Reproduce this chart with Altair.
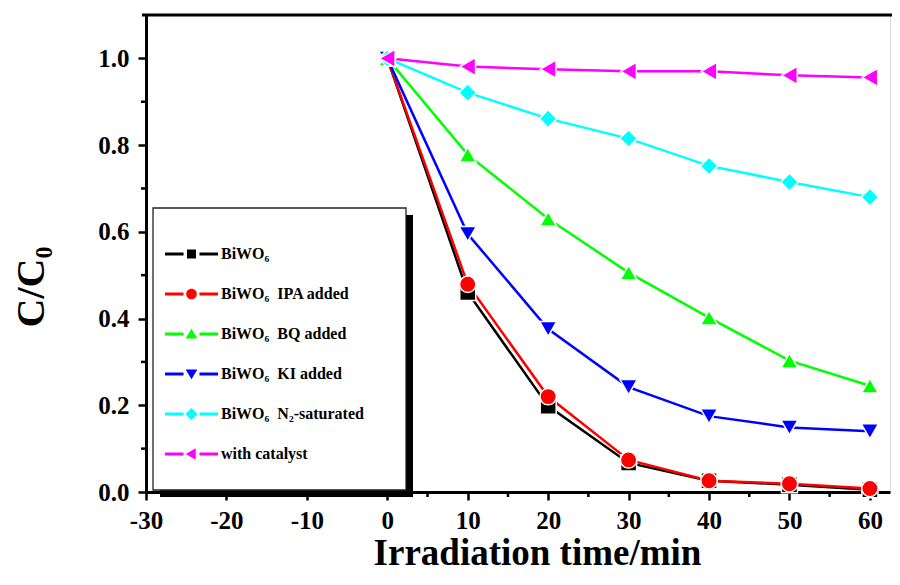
import altair as alt
import pandas as pd

# ---- data ----
times = [0, 10, 20, 30, 40, 50, 60]
series_names = [
    "BiWO\u2086",
    "BiWO\u2086\u00a0\u00a0IPA added",
    "BiWO\u2086\u00a0\u00a0BQ added",
    "BiWO\u2086\u00a0\u00a0KI added",
    "BiWO\u2086\u00a0\u00a0N\u2082-saturated",
    "with catalyst",
]
bi = [1.0, 0.46, 0.198, 0.067, 0.026, 0.017, 0.005]
ipa = [1.0, 0.479, 0.22, 0.074, 0.026, 0.019, 0.008]
bq = [1.0, 0.778, 0.63, 0.506, 0.402, 0.303, 0.245]
ki = [1.0, 0.595, 0.376, 0.242, 0.175, 0.149, 0.14]
n2 = [1.0, 0.921, 0.861, 0.815, 0.752, 0.715, 0.68]
cat = [1.0, 0.981, 0.975, 0.97, 0.97, 0.961, 0.956]
series_values = [bi, ipa, bq, ki, n2, cat]

colors = ["#000000", "#FF0000", "#00FF00", "#0000FF", "#00FFFF", "#FF00FF"]
shapes = ["square", "circle", "triangle-up", "triangle-down", "diamond", "triangle-left"]
marker_sizes = [256, 324, 420, 460, 480, 480]

x_major = [-30, -20, -10, 0, 10, 20, 30, 40, 50, 60]
x_minor = [-25, -15, -5, 5, 15, 25, 35, 45, 55]
y_major = [0.0, 0.2, 0.4, 0.6, 0.8, 1.0]
y_minor = [0.1, 0.3, 0.5, 0.7, 0.9]
y_title = "C/C\u2080"

# legend symbols: line - marker - line (custom SVG paths in [-1,1] box)
seg = "M-1,-0.055H-0.3V0.055H-1Z M0.3,-0.055H1V0.055H0.3Z "
legend_paths = [
    seg + "M-0.17,-0.17H0.17V0.17H-0.17Z",
    seg + "M-0.2,0A0.2,0.2,0,1,0,0.2,0A0.2,0.2,0,1,0,-0.2,0Z",
    seg + "M0,-0.2L0.22,0.17L-0.22,0.17Z",
    seg + "M0,0.2L0.22,-0.17L-0.22,-0.17Z",
    seg + "M0,-0.23L0.23,0L0,0.23L-0.23,0Z",
    seg + "M-0.22,0L0.16,-0.22L0.16,0.22Z",
]

rows = []
for name, vals in zip(series_names, series_values):
    for t, v in zip(times, vals):
        rows.append({"series": name, "time": t, "value": v})
df = pd.DataFrame(rows)

W, H = 744, 477
FONT = "Liberation Serif"

xscale = alt.Scale(domain=[-30, 62.5], nice=False, zero=False)
yscale = alt.Scale(domain=[0, 1.1], nice=False, zero=False)
cscale = alt.Scale(domain=series_names, range=colors)

x_axis = alt.Axis(
    orient="bottom", values=x_major, labelExpr="toString(datum.value)",
    tickSize=8, tickWidth=2.5, tickColor="black",
    domainColor="black", domainWidth=3, labelFont=FONT, labelFontSize=25,
    labelFontWeight="bold", labelColor="black", labelPadding=8, grid=False,
    title="Irradiation time/min", titleFont=FONT, titleFontSize=37,
    titleFontWeight="bold", titleColor="black", titleBaseline="alphabetic",
    titleX=391, titleY=72, labelFlush=False,
)
y_axis = alt.Axis(
    orient="left", values=y_major, format=".1f", tickSize=8, tickWidth=2.5, tickColor="black",
    domainColor="black", domainWidth=3, labelFont=FONT, labelFontSize=25,
    labelFontWeight="bold", labelColor="black", labelPadding=9, grid=False,
    title=None, labelFlush=False,
)

X = alt.X("time:Q", scale=xscale, axis=x_axis)
Y = alt.Y("value:Q", scale=yscale, axis=y_axis)

lines = alt.Chart(df).mark_line(strokeWidth=2.5).encode(
    x=X, y=Y,
    color=alt.Color("series:N", scale=cscale, legend=None),
    detail="series:N",
)

points = alt.Chart(df).mark_point(filled=True, opacity=1, stroke="white", strokeWidth=1.5).encode(
    x=X, y=Y,
    color=alt.Color("series:N", scale=cscale, legend=None),
    shape=alt.Shape("series:N", scale=alt.Scale(domain=series_names, range=shapes), legend=None),
    size=alt.Size("series:N", scale=alt.Scale(domain=series_names, range=marker_sizes), legend=None),
    order=alt.Order("idx:Q"),
).transform_calculate(idx="indexof(" + str(series_names) + ", datum.series)")

# minor ticks (same scales and axes as the data)
x_minor_ticks = alt.Chart(pd.DataFrame({"time": x_minor})).mark_rule(strokeWidth=2.5, color="black").encode(
    x=X, y=alt.value(H), y2=alt.value(H + 5)
)
y_minor_ticks = alt.Chart(pd.DataFrame({"value": y_minor})).mark_rule(strokeWidth=2.5, color="black").encode(
    y=Y, x=alt.value(-5), x2=alt.value(0)
)

# y axis title as rotated text
y_title_layer = alt.Chart(pd.DataFrame({"label": [y_title]})).mark_text(
    angle=270, align="center", baseline="middle", font=FONT, fontSize=40,
    fontWeight="bold", color="black",
).encode(text="label:N", x=alt.value(-114), y=alt.value(272))

legend_kw = dict(
    orient="none", legendX=19, legendY=219, padding=0, clipHeight=40, rowPadding=0,
    symbolSize=2809, symbolStrokeWidth=0, labelOffset=3, labelFont=FONT,
    labelFontSize=16, labelFontWeight="bold", labelColor="black", labelLimit=0,
    title=None, symbolOpacity=1,
)
legend_df = pd.DataFrame({"series": series_names})
legend_layer = alt.Chart(legend_df).mark_point(filled=True, size=2809).encode(
    color=alt.Color("series:N", scale=alt.Scale(domain=series_names, range=colors),
                    legend=alt.Legend(**legend_kw)),
    shape=alt.Shape("series:N", scale=alt.Scale(domain=series_names, range=legend_paths),
                    legend=alt.Legend(**legend_kw)),
).transform_filter("false")

one = pd.DataFrame({"k": [0]})
frame = alt.Chart(one).mark_rule(strokeWidth=3, color="black").encode(
    x=alt.value(-4), x2=alt.value(W + 10), y=alt.value(0)
)
shadow_r = alt.Chart(one).mark_rect(color="black").encode(
    x=alt.value(260), x2=alt.value(267), y=alt.value(200), y2=alt.value(482)
)
shadow_b = alt.Chart(one).mark_rect(color="black").encode(
    x=alt.value(14), x2=alt.value(267), y=alt.value(475), y2=alt.value(482)
)
box = alt.Chart(one).mark_rect(fill="white", stroke="#222222", strokeWidth=1.3).encode(
    x=alt.value(7), x2=alt.value(260), y=alt.value(193), y2=alt.value(475)
)

chart = alt.layer(
    frame, shadow_r, shadow_b, box, lines, points, x_minor_ticks, y_minor_ticks,
    y_title_layer, legend_layer
).resolve_scale(
    color="independent", shape="independent"
).properties(
    width=W, height=H,
    autosize=alt.AutoSizeParams(type="none"),
    padding={"left": 138, "top": 7, "right": 2, "bottom": 80},
).configure_view(stroke=None).configure(background="white")

chart.save("out.html", embed_options={"renderer": "svg", "actions": False})
